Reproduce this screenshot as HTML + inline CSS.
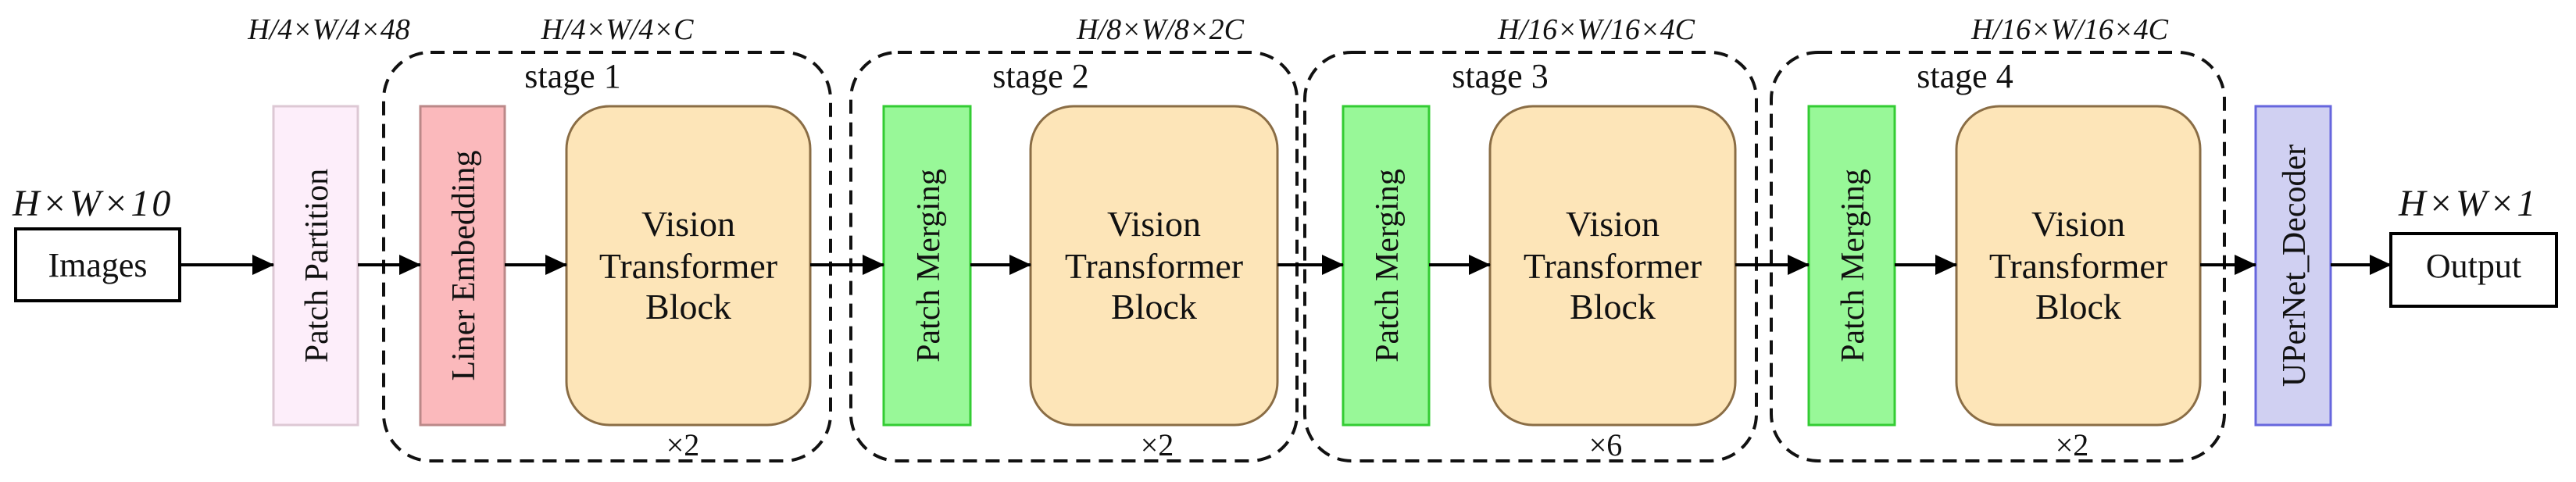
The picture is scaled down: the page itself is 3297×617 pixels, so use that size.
<!DOCTYPE html>
<html><head><style>
body{margin:0;background:#fff}
svg{display:block}
text{font-family:"Liberation Serif",serif;fill:#111}
</style></head><body>
<svg width="3297" height="617" viewBox="0 0 3297 617" xmlns="http://www.w3.org/2000/svg">
<defs>
<marker id="b" markerWidth="28" markerHeight="26" refX="27" refY="13" orient="auto" markerUnits="userSpaceOnUse" viewBox="0 0 28 26"><path d="M0,0 L28,13 L0,26 z" fill="#000"/></marker></defs>
<g fill="none" stroke="#111" stroke-width="4" stroke-dasharray="18,11">
<rect x="491" y="67" width="572" height="523" rx="60"/>
<rect x="1089" y="67" width="571" height="523" rx="60"/>
<rect x="1670" y="67" width="578" height="523" rx="60"/>
<rect x="2267" y="67" width="580" height="523" rx="60"/>
</g>
<rect x="20" y="293" width="210" height="92" fill="#fff" stroke="#000" stroke-width="4"/>
<rect x="3060" y="299" width="212" height="93" fill="#fff" stroke="#000" stroke-width="4"/>
<rect x="350" y="136" width="108" height="408" fill="#fdeefa" stroke="#ddc8d4" stroke-width="3"/>
<rect x="538" y="136" width="108" height="408" fill="#fbb9bc" stroke="#b88" stroke-width="3"/>
<rect x="1131" y="136" width="111" height="408" fill="#98f898" stroke="#3c3" stroke-width="3"/>
<rect x="1719" y="136" width="110" height="408" fill="#98f898" stroke="#3c3" stroke-width="3"/>
<rect x="2315" y="136" width="110" height="408" fill="#98f898" stroke="#3c3" stroke-width="3"/>
<rect x="2887" y="136" width="96" height="408" fill="#d0d0f2" stroke="#66d" stroke-width="3"/>
<g fill="#fde5b8" stroke="#8a6d45" stroke-width="3">
<rect x="725" y="136" width="312" height="408" rx="55"/>
<rect x="1319" y="136" width="316" height="408" rx="55"/>
<rect x="1907" y="136" width="314" height="408" rx="55"/>
<rect x="2504" y="136" width="312" height="408" rx="55"/>
</g>
<g stroke="#000" stroke-width="4" marker-end="url(#b)">
<line x1="230" y1="339" x2="350" y2="339"/>
<line x1="458" y1="339" x2="538" y2="339"/>
<line x1="646" y1="339" x2="725" y2="339"/>
<line x1="1037" y1="339" x2="1131" y2="339"/>
<line x1="1242" y1="339" x2="1319" y2="339"/>
<line x1="1635" y1="339" x2="1719" y2="339"/>
<line x1="1829" y1="339" x2="1907" y2="339"/>
<line x1="2221" y1="339" x2="2315" y2="339"/>
<line x1="2425" y1="339" x2="2504" y2="339"/>
<line x1="2816" y1="339" x2="2887" y2="339"/>
<line x1="2983" y1="339" x2="3060" y2="339"/>
</g>
<g font-size="44" text-anchor="middle">
<text x="125" y="354">Images</text>
<text x="3166" y="355">Output</text>
<text x="733" y="112">stage 1</text>
<text x="1332" y="112">stage 2</text>
<text x="1920" y="112">stage 3</text>
<text x="2515" y="112">stage 4</text>
</g>
<g font-size="46" text-anchor="middle">
<text x="881" y="302">Vision</text><text x="881" y="356">Transformer</text><text x="881" y="408">Block</text>
<text x="1477" y="302">Vision</text><text x="1477" y="356">Transformer</text><text x="1477" y="408">Block</text>
<text x="2064" y="302">Vision</text><text x="2064" y="356">Transformer</text><text x="2064" y="408">Block</text>
<text x="2660" y="302">Vision</text><text x="2660" y="356">Transformer</text><text x="2660" y="408">Block</text>
</g>
<g font-size="42" text-anchor="middle">
<text transform="translate(419,340) rotate(-90)">Patch Partition</text>
<text transform="translate(607,340) rotate(-90)">Liner Embedding</text>
<text transform="translate(1202,340) rotate(-90)">Patch Merging</text>
<text transform="translate(1789,340) rotate(-90)">Patch Merging</text>
<text transform="translate(2385,340) rotate(-90)">Patch Merging</text>
<text transform="translate(2950,340) rotate(-90)">UPerNet_Decoder</text>
</g>
<g font-size="38" font-style="italic" text-anchor="middle">
<text x="421" y="50">H/4×W/4×48</text>
<text x="790" y="50">H/4×W/4×C</text>
<text x="1485" y="50">H/8×W/8×2C</text>
<text x="2043" y="50">H/16×W/16×4C</text>
<text x="2649" y="50">H/16×W/16×4C</text>
</g>
<g font-size="40" text-anchor="middle">
<text x="874" y="583">×2</text>
<text x="1481" y="583">×2</text>
<text x="2055" y="583">×6</text>
<text x="2652" y="583">×2</text>
</g>
<g font-size="48" font-style="italic" letter-spacing="3">
<text x="16" y="276">H×W×10</text>
<text x="3070" y="276">H×W×1</text>
</g>
</svg>
</body></html>
